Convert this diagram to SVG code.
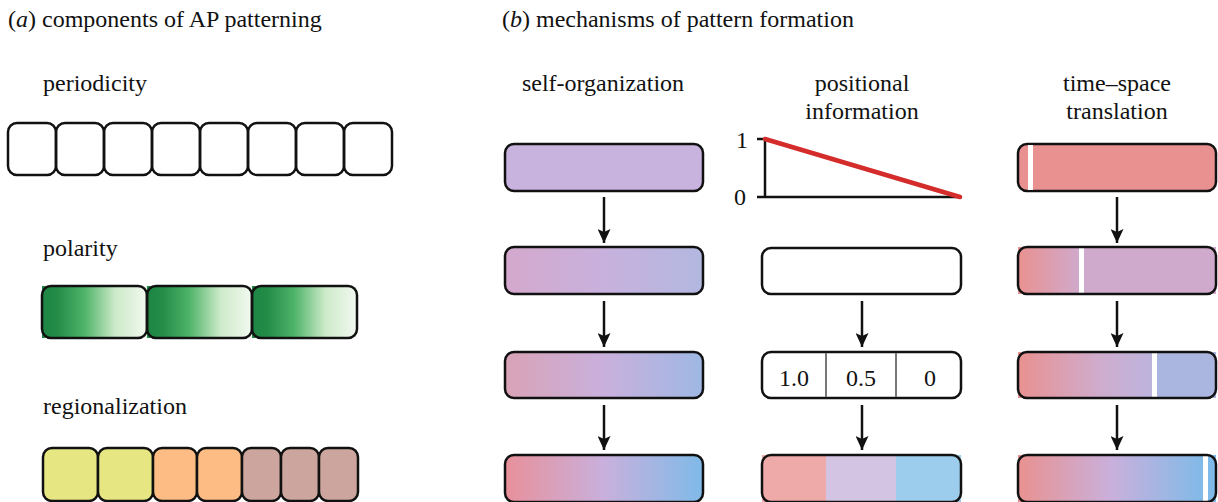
<svg xmlns="http://www.w3.org/2000/svg" width="1218" height="502" viewBox="0 0 1218 502">
<style>
text{font-family:'Liberation Serif','Times New Roman',Times,serif;fill:#111;font-size:24px}
.c{text-anchor:middle}
.cell{stroke:#111;stroke-width:2.5}
.box{stroke:#111;stroke-width:2.5}
.arr{stroke:#111;stroke-width:2.5;fill:none}
</style>
<defs>
<marker id="ah" markerUnits="userSpaceOnUse" markerWidth="14" markerHeight="13" refX="14" refY="6.5" orient="auto">
<path d="M0,0 L14,6.5 L0,13 L3,6.5 z" fill="#111"/>
</marker>
<linearGradient id="gpol" x1="0" x2="1" y1="0" y2="0">
<stop offset="0" stop-color="#1e8544"/><stop offset="0.15" stop-color="#238c48"/><stop offset="0.4" stop-color="#4db368"/><stop offset="0.7" stop-color="#cdeac9"/><stop offset="1" stop-color="#f2f9f0"/>
</linearGradient>
<linearGradient id="so2" x1="0" x2="1"><stop offset="0" stop-color="#d4a8cc"/><stop offset="0.5" stop-color="#c8b1dd"/><stop offset="1" stop-color="#b2b8e0"/></linearGradient>
<linearGradient id="so3" x1="0" x2="1"><stop offset="0" stop-color="#d9a3b6"/><stop offset="0.5" stop-color="#c9b0dc"/><stop offset="1" stop-color="#9fb8e4"/></linearGradient>
<linearGradient id="so4" x1="0" x2="1"><stop offset="0" stop-color="#e8909a"/><stop offset="0.5" stop-color="#c9b0dc"/><stop offset="1" stop-color="#7fbae8"/></linearGradient>
<linearGradient id="ts2" gradientUnits="userSpaceOnUse" x1="1018" x2="1081" y1="0" y2="0"><stop offset="0" stop-color="#e99190"/><stop offset="1" stop-color="#d0aacd"/></linearGradient>
<linearGradient id="ts3" gradientUnits="userSpaceOnUse" x1="1018" x2="1154" y1="0" y2="0"><stop offset="0" stop-color="#e99190"/><stop offset="0.6" stop-color="#cfaccd"/><stop offset="1" stop-color="#bcb4de"/></linearGradient>
<linearGradient id="ts4" gradientUnits="userSpaceOnUse" x1="1018" x2="1206" y1="0" y2="0"><stop offset="0" stop-color="#e99190"/><stop offset="0.5" stop-color="#c9b0dc"/><stop offset="1" stop-color="#7fbae8"/></linearGradient>
</defs>

<rect width="1218" height="502" fill="#fff"/>

<text x="8" y="27">(<tspan font-style="italic">a</tspan>) components of AP patterning</text>
<text x="502" y="27">(<tspan font-style="italic">b</tspan>) mechanisms of pattern formation</text>

<g id="periodicity">
<text x="43" y="91">periodicity</text>
<rect class="cell" x="8" y="123" width="48" height="52" rx="9" fill="none"/>
<rect class="cell" x="56" y="123" width="48" height="52" rx="9" fill="none"/>
<rect class="cell" x="104" y="123" width="48" height="52" rx="9" fill="none"/>
<rect class="cell" x="152" y="123" width="48" height="52" rx="9" fill="none"/>
<rect class="cell" x="200" y="123" width="48" height="52" rx="9" fill="none"/>
<rect class="cell" x="248" y="123" width="48" height="52" rx="9" fill="none"/>
<rect class="cell" x="296" y="123" width="48" height="52" rx="9" fill="none"/>
<rect class="cell" x="344" y="123" width="48" height="52" rx="9" fill="none"/>
</g>

<g id="polarity">
<text x="43" y="256">polarity</text>
<rect x="42" y="286" width="105" height="52" fill="url(#gpol)"/>
<rect x="147" y="286" width="105" height="52" fill="url(#gpol)"/>
<rect x="252" y="286" width="105" height="52" fill="url(#gpol)"/>
<rect class="cell" x="42" y="286" width="105" height="52" rx="9" fill="none"/>
<rect class="cell" x="147" y="286" width="105" height="52" rx="9" fill="none"/>
<rect class="cell" x="252" y="286" width="105" height="52" rx="9" fill="none"/>
</g>

<g id="regionalization">
<text x="43" y="414">regionalization</text>
<rect class="cell" x="43" y="448" width="55" height="53" rx="9" fill="#e6e683"/>
<rect class="cell" x="98" y="448" width="55" height="53" rx="9" fill="#e6e683"/>
<rect class="cell" x="153" y="448" width="44" height="53" rx="9" fill="#fdbc84"/>
<rect class="cell" x="197" y="448" width="45" height="53" rx="9" fill="#fdbc84"/>
<rect class="cell" x="242" y="448" width="39" height="53" rx="9" fill="#cca69e"/>
<rect class="cell" x="281" y="448" width="38" height="53" rx="9" fill="#cca69e"/>
<rect class="cell" x="319" y="448" width="39" height="53" rx="9" fill="#cca69e"/>
</g>

<g id="self-organization">
<text class="c" x="603" y="91">self-organization</text>
<rect class="box" x="505" y="144" width="198" height="47" rx="9" fill="#c8b2de"/>
<rect class="box" x="505" y="247" width="198" height="47" rx="9" fill="url(#so2)"/>
<rect class="box" x="505" y="352" width="198" height="46" rx="9" fill="url(#so3)"/>
<rect class="box" x="505" y="455" width="198" height="47" rx="9" fill="url(#so4)"/>
</g>

<g id="positional-information">
<text class="c" x="862" y="91">positional</text>
<text class="c" x="862" y="119">information</text>
<text x="736" y="148" font-size="22">1</text>
<text x="734" y="205" font-size="22">0</text>
<line x1="765" y1="139" x2="765" y2="197" stroke="#111" stroke-width="2.5"/>
<line x1="757" y1="139" x2="765" y2="139" stroke="#111" stroke-width="2.5"/>
<line x1="757" y1="197" x2="960" y2="197" stroke="#111" stroke-width="2.5"/>
<line x1="765" y1="139" x2="960" y2="197" stroke="#d42b2b" stroke-width="4.5" stroke-linecap="round"/>
<rect class="box" x="762" y="248" width="199" height="46" rx="9" fill="#fff"/>
<rect class="box" x="762" y="352" width="199" height="46" rx="9" fill="#fff"/>
<line x1="826" y1="353" x2="826" y2="397" stroke="#777" stroke-width="2"/>
<line x1="896" y1="353" x2="896" y2="397" stroke="#777" stroke-width="2"/>
<text class="c" x="794" y="386" font-size="22">1.0</text>
<text class="c" x="861" y="386" font-size="22">0.5</text>
<text class="c" x="930" y="386" font-size="22">0</text>
<rect x="762" y="455" width="64" height="47" fill="#eeaaa9"/>
<rect x="826" y="455" width="70" height="47" fill="#d4c4e3"/>
<rect x="896" y="455" width="65" height="47" fill="#9ccdec"/>
<rect class="box" x="762" y="455" width="199" height="47" rx="9" fill="none"/>
</g>

<g id="time-space-translation">
<text class="c" x="1117" y="91">time–space</text>
<text class="c" x="1117" y="119">translation</text>
<rect class="box" x="1018" y="144" width="198" height="47" rx="9" fill="#e99190"/>
<rect x="1028" y="145" width="5" height="45" fill="#fff"/>
<rect x="1018" y="247" width="63" height="47" fill="url(#ts2)"/>
<rect x="1081" y="247" width="135" height="47" fill="#d0aacd"/>
<rect x="1079" y="248" width="5" height="45" fill="#fff"/>
<rect class="box" x="1018" y="247" width="198" height="47" rx="9" fill="none"/>
<rect x="1018" y="352" width="136" height="46" fill="url(#ts3)"/>
<rect x="1154" y="352" width="62" height="46" fill="#aab6e0"/>
<rect x="1152" y="353" width="5" height="44" fill="#fff"/>
<rect class="box" x="1018" y="352" width="198" height="46" rx="9" fill="none"/>
<rect x="1018" y="455" width="188" height="47" fill="url(#ts4)"/>
<rect x="1206" y="455" width="10" height="47" fill="#7fbae8"/>
<rect x="1203" y="456" width="5" height="46" fill="#fff"/>
<rect class="box" x="1018" y="455" width="198" height="47" rx="9" fill="none"/>
</g>

<g id="connectors">
<line class="arr" x1="604" y1="197" x2="604" y2="243" marker-end="url(#ah)"/>
<line class="arr" x1="604" y1="301" x2="604" y2="347" marker-end="url(#ah)"/>
<line class="arr" x1="604" y1="405" x2="604" y2="450" marker-end="url(#ah)"/>
<line class="arr" x1="862" y1="301" x2="862" y2="347" marker-end="url(#ah)"/>
<line class="arr" x1="862" y1="405" x2="862" y2="450" marker-end="url(#ah)"/>
<line class="arr" x1="1117" y1="197" x2="1117" y2="243" marker-end="url(#ah)"/>
<line class="arr" x1="1117" y1="301" x2="1117" y2="347" marker-end="url(#ah)"/>
<line class="arr" x1="1117" y1="405" x2="1117" y2="450" marker-end="url(#ah)"/>
</g>
</svg>
